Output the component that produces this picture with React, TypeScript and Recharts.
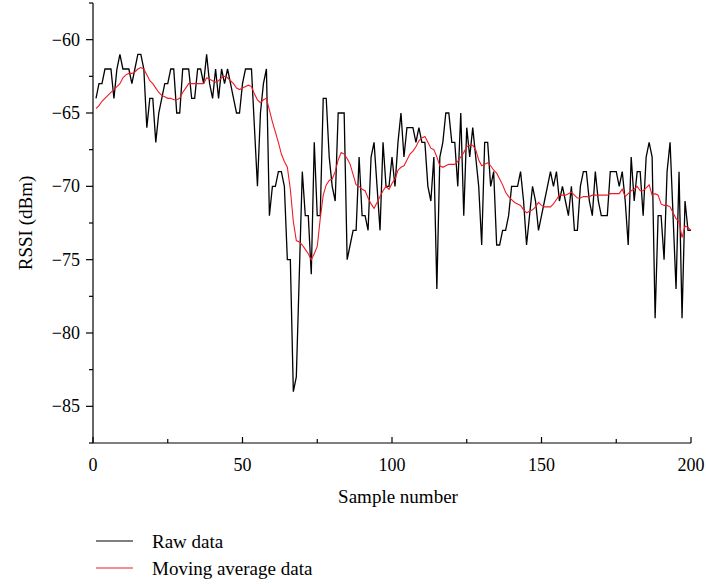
import React from 'react';
import { LineChart, Line, XAxis, YAxis } from 'recharts';

// RSSI readings (dBm), samples 1..200
const rawRssi = [
  -64, -63, -63, -62, -62, -62, -64, -62, -61, -62,
  -62, -62, -63, -62, -61, -61, -62, -66, -64, -64,
  -67, -65, -64, -63, -63, -62, -62, -65, -65, -62,
  -62, -62, -64, -64, -62, -62, -63, -61, -63, -64,
  -62, -64, -62, -63, -62, -63, -64, -65, -65, -63,
  -62, -62, -62, -66, -70, -65, -63, -62, -72, -70,
  -70, -69, -69, -70, -75, -75, -84, -83, -76, -69,
  -72, -72, -76, -67, -72, -72, -64, -64, -68, -70,
  -71, -65, -65, -65, -75, -74, -73, -73, -68, -72,
  -72, -73, -68, -67, -70, -73, -67, -70, -70, -68,
  -70, -67, -65, -68, -66, -66, -66, -67, -66, -67,
  -67, -70, -71, -68, -77, -68, -67, -65, -65, -67,
  -67, -70, -65, -72, -66, -68, -66, -68, -70, -74,
  -67, -67, -70, -69, -74, -74, -73, -73, -72, -70,
  -70, -70, -69, -71, -74, -72, -70, -71, -73, -72,
  -71, -70, -69, -70, -69, -71, -70, -71, -72, -70,
  -73, -73, -70, -69, -69, -71, -72, -69, -71, -72,
  -72, -72, -69, -69, -69, -70, -69, -71, -74, -68,
  -71, -69, -69, -72, -68, -67, -68, -79, -72, -72,
  -75, -69, -67, -72, -77, -69, -79, -71, -73, -73,
];

const movingAvg = [
  -64.7, -64.5, -64.2, -64.0, -63.8, -63.6, -63.4, -63.2, -63.0, -62.6,
  -62.4, -62.3, -62.3, -62.2, -62.0, -61.9, -62.0, -62.4, -62.8, -63.0,
  -63.3, -63.6, -63.8, -63.9, -64.0, -64.0, -64.1, -64.1, -64.0, -63.6,
  -63.3, -63.0, -63.0, -63.0, -63.0, -63.0, -63.0, -62.6, -62.7, -62.8,
  -62.9, -62.8, -62.6, -62.5, -62.6, -62.8, -63.0, -63.3, -63.4, -63.3,
  -63.2, -63.1, -63.2, -63.7, -64.1, -64.3, -64.1, -64.0, -64.8, -65.6,
  -66.3, -67.0, -67.8, -68.3, -68.7, -70.2, -72.4, -73.7, -73.8, -74.0,
  -74.3, -74.6, -75.0, -74.6, -74.1, -72.2, -70.6, -69.9, -69.6, -69.5,
  -69.0, -68.2, -67.7, -67.8, -68.1, -68.5, -69.2, -69.9, -70.0, -70.2,
  -70.3, -70.8, -71.2, -71.5, -71.1, -70.7, -70.3, -70.0, -70.2, -69.8,
  -69.5, -68.9, -68.7, -68.6, -68.2, -67.8, -67.6, -67.3, -66.9, -66.7,
  -66.6, -67.0, -67.4, -67.5, -68.0, -68.6, -68.7, -68.6, -68.5, -68.5,
  -68.5, -68.3, -68.0, -67.7, -67.3, -67.2, -67.2, -67.5, -68.2, -68.6,
  -68.5, -68.4, -68.6, -68.9, -69.1, -69.5, -69.9, -70.4, -70.7, -70.9,
  -71.1, -71.2, -71.3, -71.6, -71.8, -71.7, -71.6, -71.4, -71.1, -71.3,
  -71.4, -71.4, -71.4, -71.2, -70.9, -70.6, -70.6, -70.6, -70.5, -70.4,
  -70.6, -70.8, -70.8, -70.7, -70.7, -70.7, -70.6, -70.6, -70.6, -70.6,
  -70.6, -70.6, -70.5, -70.5, -70.5, -70.5, -70.2, -70.7, -70.5, -70.3,
  -70.2, -70.0, -70.3, -70.3, -70.1, -69.9, -70.6, -70.5, -70.6, -71.2,
  -71.3, -71.3, -71.4, -71.8, -72.2, -72.4, -73.5, -72.7, -72.8, -73.0,
];

const xTicks = [0, 25, 50, 75, 100, 125, 150, 175, 200];
const yTicks = [-87.5, -85, -82.5, -80, -77.5, -75, -72.5, -70, -67.5, -65, -62.5, -60, -57.5];

const data = rawRssi.map((v, i) => ({ sample: i + 1, raw: v, avg: movingAvg[i] }));

const FONT = '"Liberation Serif", "Times New Roman", serif';
const RED = '#ee1c25';

const fmt = (v: number) => (v < 0 ? `\u2212${Math.abs(v)}` : `${v}`);

const XTick = ({ x, y, payload }: any) => {
  const major = payload.value % 50 === 0;
  return (
    <g>
      <line x1={x} y1={y} x2={x} y2={y - (major ? 6 : 4)} stroke="#000" strokeWidth={1.2} />
      {major && (
        <text x={x} y={y + 28} textAnchor="middle" fontSize={18} fontFamily={FONT} fill="#000">
          {payload.value}
        </text>
      )}
    </g>
  );
};

const YTick = ({ x, y, payload }: any) => {
  const major = payload.value % 5 === 0;
  return (
    <g>
      <line x1={x} y1={y} x2={x - (major ? 7 : 4)} y2={y} stroke="#000" strokeWidth={1.2} />
      {major && (
        <text x={x - 13} y={y + 6} textAnchor="end" fontSize={18} fontFamily={FONT} fill="#000">
          {fmt(payload.value)}
        </text>
      )}
    </g>
  );
};

const YLabel = ({ viewBox }: any) => {
  const cx = viewBox.x + 25;
  const cy = viewBox.y + viewBox.height / 2;
  return (
    <text x={cx} y={cy} transform={`rotate(-90 ${cx} ${cy})`} textAnchor="middle"
      dominantBaseline="central" fontSize={19} fontFamily={FONT} fill="#000">
      RSSI (dBm)
    </text>
  );
};

const XLabel = ({ viewBox }: any) => (
  <text x={viewBox.x + viewBox.width / 2 + 6} y={viewBox.y + 60} textAnchor="middle"
    fontSize={19} fontFamily={FONT} fill="#000">
    Sample number
  </text>
);

export default function App() {
  return (
    <div style={{ position: 'relative', width: 706, height: 584, background: '#fff' }}>
      <style>{'body { margin: 0; }'}</style>
      <LineChart width={706} height={584} data={data} margin={{ top: 3, right: 15, left: 0, bottom: 0 }}>
        <XAxis
          dataKey="sample" type="number" domain={[0, 200]} ticks={xTicks} interval={0}
          height={141} tickSize={0} tickMargin={0} tickLine={false}
          axisLine={{ stroke: '#000', strokeWidth: 1.2 }}
          tick={<XTick />} label={<XLabel />}
        />
        <YAxis
          type="number" domain={[-87.5, -57.5]} ticks={yTicks} interval={0} allowDataOverflow
          width={93} tickSize={0} tickMargin={0} tickLine={false}
          axisLine={{ stroke: '#000', strokeWidth: 1.2 }}
          tick={<YTick />} label={<YLabel />}
        />
        <Line type="linear" dataKey="raw" stroke="#000" strokeWidth={1.3} dot={false} isAnimationActive={false} />
        <Line type="linear" dataKey="avg" stroke={RED} strokeWidth={1.1} dot={false} isAnimationActive={false} />
      </LineChart>
      <svg width={320} height={64} style={{ position: 'absolute', left: 90, top: 520 }}>
        <line x1={6} y1={21} x2={43} y2={21} stroke="#000" strokeWidth={1.2} />
        <text x={62} y={28} fontSize={19} fontFamily={FONT} fill="#000">Raw data</text>
        <line x1={6} y1={48} x2={43} y2={48} stroke={RED} strokeWidth={1.2} />
        <text x={62} y={55} fontSize={19} fontFamily={FONT} fill="#000">Moving average data</text>
      </svg>
    </div>
  );
}
